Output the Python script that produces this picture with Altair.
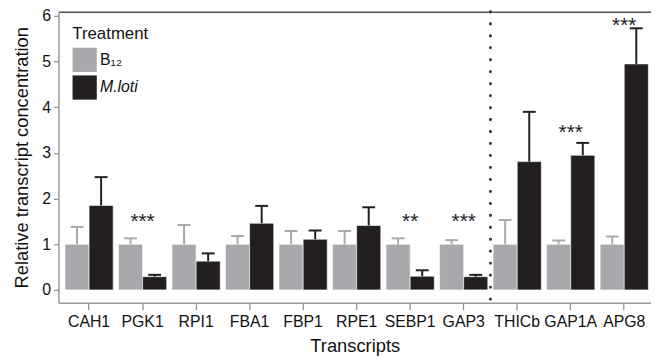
import altair as alt
import pandas as pd

transcripts = ["CAH1", "PGK1", "RPI1", "FBA1", "FBP1", "RPE1", "SEBP1", "GAP3", "THICb", "GAP1A", "APG8"]
treatments = ["B₁₂", "M.loti"]
b12_mean = [1, 1, 1, 1, 1, 1, 1, 1, 1, 1, 1]
b12_upper = [1.38, 1.13, 1.42, 1.18, 1.29, 1.29, 1.13, 1.09, 1.53, 1.08, 1.17]
mloti_mean = [1.85, 0.29, 0.63, 1.46, 1.11, 1.41, 0.30, 0.29, 2.81, 2.95, 4.95]
mloti_upper = [2.47, 0.33, 0.80, 1.84, 1.30, 1.81, 0.43, 0.33, 3.90, 3.22, 5.73]
sig_transcripts = ["PGK1", "SEBP1", "GAP3", "GAP1A", "APG8"]
sig_labels = ["***", "**", "***", "***", "***"]
sig_y = [1.59, 1.59, 1.59, 3.55, 5.89]
divider_before = ["THICb"]

rows = []
for i, t in enumerate(transcripts):
    rows.append({"transcript": t, "treatment": treatments[0], "value": b12_mean[i], "upper": b12_upper[i]})
    rows.append({"transcript": t, "treatment": treatments[1], "value": mloti_mean[i], "upper": mloti_upper[i]})
df = pd.DataFrame(rows)
sig_df = pd.DataFrame({"transcript": sig_transcripts, "label": sig_labels, "value": sig_y})
div_df = pd.DataFrame({"transcript": divider_before})

GRAY = "#a7a9ac"
BLACK = "#231f20"

x_scale = alt.Scale(domain=transcripts, paddingInner=0, paddingOuter=0.036, align=1)
y_scale = alt.Scale(domain=[-0.28, 6.09], nice=False, zero=False)
y_axis = alt.Axis(
    values=[0, 1, 2, 3, 4, 5, 6], title="Relative transcript concentration",
    grid=False, domainColor="#9a9a9a", domainWidth=1.5, tickColor="#8a8a8a",
    tickSize=5, tickWidth=1.2, labelFontSize=16, labelColor="#111", labelPadding=3,
    titleFontSize=18.5, titleFontWeight="normal", titleColor="#111", titlePadding=10,
)
xoff = alt.XOffset("treatment:N", sort=treatments,
                   scale=alt.Scale(domain=treatments, paddingInner=0, paddingOuter=0.11))
color = alt.Color(
    "treatment:N", sort=treatments,
    scale=alt.Scale(domain=treatments, range=[GRAY, BLACK]),
    legend=alt.Legend(
        title="Treatment", orient="top-left", offset=14,
        titleFontSize=17, titleFontWeight="normal", titleColor="#111", titlePadding=5,
        labelFontSize=16, labelColor="#111",
        labelFontStyle=alt.ExprRef("datum.label == 'M.loti' ? 'italic' : 'normal'"),
        symbolType="square", symbolSize=600, symbolStrokeWidth=0, symbolOpacity=1,
        rowPadding=3, labelOffset=3, padding=0,
    ),
)

bars = alt.Chart(df).mark_bar(stroke="white", strokeWidth=0.6, opacity=1).encode(
    x=alt.X("transcript:N", sort=transcripts, scale=x_scale,
            axis=alt.Axis(title="Transcripts", labelAngle=0, domainColor="#9a9a9a", domainWidth=1.5,
                          tickColor="#8a8a8a", tickSize=7, tickWidth=1.2, labelFontSize=16,
                          labelColor="#111", labelPadding=4, titleFontSize=18.5,
                          titleFontWeight="normal", titleColor="#111", titlePadding=7)),
    xOffset=xoff,
    y=alt.Y("value:Q", scale=y_scale, axis=y_axis),
    y2=alt.datum(0),
    color=color,
)

err_color = alt.Color("treatment:N", sort=treatments,
                      scale=alt.Scale(domain=treatments, range=["#b4b6b8", BLACK]), legend=None)

err = alt.Chart(df).mark_rule(strokeWidth=2).encode(
    x=alt.X("transcript:N", sort=transcripts, scale=x_scale, axis=None),
    xOffset=xoff,
    y=alt.Y("value:Q", scale=y_scale, axis=y_axis),
    y2="upper:Q",
    color=err_color,
)
caps = alt.Chart(df).mark_tick(orient="horizontal", size=13, thickness=2, opacity=1).encode(
    x=alt.X("transcript:N", sort=transcripts, scale=x_scale, axis=None),
    xOffset=xoff,
    y=alt.Y("upper:Q", scale=y_scale, axis=y_axis),
    color=err_color,
)
stars = alt.Chart(sig_df).mark_text(fontSize=21, color="#222", baseline="middle", dy=5).encode(
    x=alt.X("transcript:N", sort=transcripts, scale=x_scale, axis=None),
    y=alt.Y("value:Q", scale=y_scale, axis=y_axis),
    text="label:N",
)
divider = alt.Chart(div_df).mark_rule(color="#333", strokeWidth=3, strokeDash=[0.1, 12], strokeCap="round").encode(
    x=alt.X("transcript:N", sort=transcripts, scale=x_scale, bandPosition=0,
            axis=alt.Axis(orient="top", labels=False, ticks=False, title=None,
                          domainColor="#555", domainWidth=1.5)),
)

chart = alt.layer(bars, err, caps, stars, divider).resolve_axis(x="independent").properties(
    width=599, height=294, autosize="none",
    padding={"left": 51, "top": 2, "right": 0, "bottom": 53},
).configure(font="Liberation Sans").configure_view(stroke=None)

chart.save("out.html", embed_options={"renderer": "svg", "actions": False})
